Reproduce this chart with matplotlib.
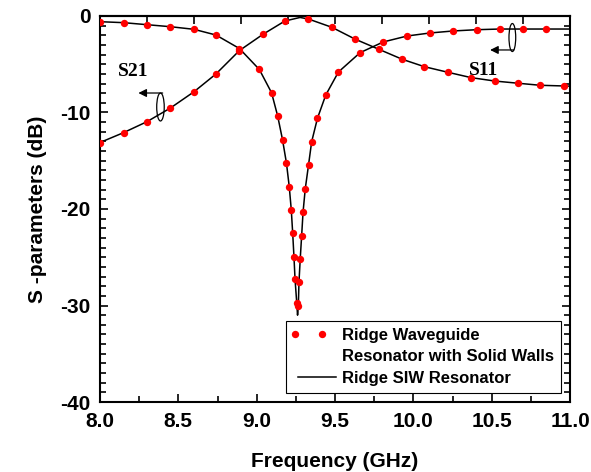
import numpy as np
import matplotlib
matplotlib.use("Agg")
import matplotlib.pyplot as plt
from matplotlib.patches import Ellipse
from matplotlib.lines import Line2D
from matplotlib.legend_handler import HandlerLine2D
from matplotlib.ticker import MultipleLocator, FormatStrFormatter, NullFormatter

plt.rcParams.update({
    "font.family": ["Liberation Sans", "DejaVu Sans"],
    "font.weight": "bold",
    "axes.unicode_minus": False,
    "axes.linewidth": 1.5,
})

# ridge waveguide resonator with solid walls (sampled points)
WG_S11_F = [8.00, 8.15, 8.30, 8.45, 8.60, 8.74, 8.89, 9.017, 9.095, 9.134, 9.165,
            9.190, 9.208, 9.221, 9.230, 9.238, 9.245, 9.256, 9.266, 9.270, 9.278,
            9.287, 9.296, 9.310, 9.331, 9.351, 9.388, 9.441, 9.522, 9.660, 9.808,
            9.961, 10.106, 10.255, 10.404, 10.553, 10.702, 10.847]
WG_S11_DB = [-0.59, -0.69, -0.90, -1.11, -1.38, -1.97, -3.37, -5.54, -7.95, -10.36,
             -12.82, -15.23, -17.69, -20.10, -22.52, -24.94, -27.29, -29.77, -30.05,
             -27.60, -25.18, -22.80, -20.34, -17.93, -15.44, -13.03, -10.60, -8.19,
             -5.80, -3.80, -2.69, -2.07, -1.76, -1.55, -1.42, -1.35, -1.35, -1.35]
WG_S21_F = [8.00, 8.15, 8.30, 8.45, 8.60, 8.74, 8.89, 9.04, 9.18, 9.33, 9.48, 9.63,
            9.78, 9.93, 10.07, 10.22, 10.37, 10.52, 10.67, 10.81, 10.96]
WG_S21_DB = [-13.11, -12.09, -10.95, -9.53, -7.85, -6.01, -3.58, -1.90, -0.52, -0.31,
             -1.17, -2.41, -3.45, -4.49, -5.25, -5.83, -6.39, -6.74, -6.97, -7.18, -7.25]

# ridge SIW resonator (full sweep)
SIW_S11_F = [8.00, 8.15, 8.30, 8.45, 8.60, 8.74, 8.89, 9.017, 9.095, 9.134, 9.165,
             9.190, 9.208, 9.221, 9.230, 9.238, 9.245, 9.256, 9.261, 9.266, 9.270,
             9.278, 9.287, 9.296, 9.310, 9.331, 9.351, 9.388, 9.441, 9.522, 9.660,
             9.808, 9.961, 10.106, 10.255, 10.404, 10.553, 10.702, 10.847, 11.00]
SIW_S11_DB = [-0.59, -0.69, -0.90, -1.11, -1.38, -1.97, -3.37, -5.54, -7.95, -10.36,
              -12.82, -15.23, -17.69, -20.10, -22.52, -24.94, -27.29, -29.77, -31.0,
              -30.05, -27.60, -25.18, -22.80, -20.34, -17.93, -15.44, -13.03, -10.60,
              -8.19, -5.80, -3.80, -2.69, -2.07, -1.76, -1.55, -1.42, -1.35, -1.35,
              -1.35, -1.35]
SIW_S21_F = [8.00, 8.15, 8.30, 8.45, 8.60, 8.74, 8.89, 9.04, 9.18, 9.277, 9.33, 9.48,
             9.63, 9.78, 9.93, 10.07, 10.22, 10.37, 10.52, 10.67, 10.81, 10.96, 11.00]
SIW_S21_DB = [-13.11, -12.09, -10.95, -9.53, -7.85, -6.01, -3.58, -1.90, -0.52, -0.15,
              -0.31, -1.17, -2.41, -3.45, -4.49, -5.25, -5.83, -6.39, -6.74, -6.97,
              -7.18, -7.25, -7.27]


class DotPair(HandlerLine2D):
    """Two legend dots sitting in the left part of the handle box."""

    def get_xdata(self, legend, xdescent, ydescent, width, height, fontsize):
        xs = -xdescent + np.array([0.05, 0.6]) * width
        return xs, xs


fig = plt.figure(figsize=(5.91, 4.72), dpi=100)
ax = fig.add_axes([100 / 591, 70 / 472, 470 / 591, 386 / 472])

ax.plot(SIW_S11_F, SIW_S11_DB, color="black", lw=1.1, zorder=2)
ax.plot(SIW_S21_F, SIW_S21_DB, color="black", lw=1.1, zorder=2)
ax.plot(WG_S11_F, WG_S11_DB, ls="none", marker="o", ms=5.3, color="red", mec="none", zorder=3)
ax.plot(WG_S21_F, WG_S21_DB, ls="none", marker="o", ms=5.3, color="red", mec="none", zorder=3)

ax.set_xlim(8.0, 11.0)
ax.set_ylim(-40, 0)
ax.xaxis.set_major_locator(MultipleLocator(0.5))
ax.xaxis.set_minor_locator(MultipleLocator(0.25))
ax.xaxis.set_major_formatter(FormatStrFormatter("%.1f"))
ax.yaxis.set_major_locator(MultipleLocator(10))
ax.yaxis.set_minor_locator(MultipleLocator(1))
ax.tick_params(which="both", direction="in", right=True, width=1.2, labelsize=15, pad=7)
ax.tick_params(which="major", length=6)
ax.tick_params(which="minor", length=4)

top = ax.secondary_xaxis("top")
top.set_xticks(np.arange(8.0, 11.01, 0.3))
top.xaxis.set_major_formatter(NullFormatter())
top.tick_params(direction="in", length=6, width=1.2)

ax.set_xlabel("Frequency (GHz)", fontsize=15, fontweight="bold", labelpad=15)
ax.set_ylabel("S -parameters (dB)", fontsize=15, fontweight="bold", labelpad=9)

# curve tags with ellipse + arrow pointing to the left axis
serif = dict(family=["Liberation Serif", "DejaVu Serif"], fontsize=14, fontweight="bold")
ax.text(8.21, -5.7, "S21", ha="center", va="center", **serif)
ax.add_patch(Ellipse((8.386, -9.43), 0.048, 2.9, fill=False, lw=0.9, ec="black"))
ax.annotate("", xy=(8.245, -7.98), xytext=(8.40, -7.98),
            arrowprops=dict(arrowstyle="-|>", color="black", lw=0.9, mutation_scale=12,
                            shrinkA=0, shrinkB=0))
ax.text(10.451, -5.6, "S11", ha="center", va="center", **serif)
ax.add_patch(Ellipse((10.632, -2.23), 0.043, 2.9, fill=False, lw=0.9, ec="black"))
ax.annotate("", xy=(10.49, -3.52), xytext=(10.642, -3.52),
            arrowprops=dict(arrowstyle="-|>", color="black", lw=0.9, mutation_scale=12,
                            shrinkA=0, shrinkB=0))

dots = Line2D([], [], ls="none", marker="o", ms=5.3, color="red", mec="none")
handles = [dots, Line2D([], [], ls="none"), Line2D([], [], color="black", lw=1.1)]
labels = ["Ridge Waveguide", "Resonator with Solid Walls", "Ridge SIW Resonator"]
leg = ax.legend(handles, labels, loc="lower right", bbox_to_anchor=(0.981, 0.023),
                borderaxespad=0, numpoints=2, handlelength=2.9, handletextpad=0.05,
                labelspacing=0.4, borderpad=0.42, fancybox=False, framealpha=1,
                edgecolor="black", handler_map={dots: DotPair(numpoints=2)},
                prop=dict(family="Liberation Sans", weight="bold", size=12))
leg.get_frame().set_linewidth(0.8)

fig.savefig("out.png", dpi=100)
